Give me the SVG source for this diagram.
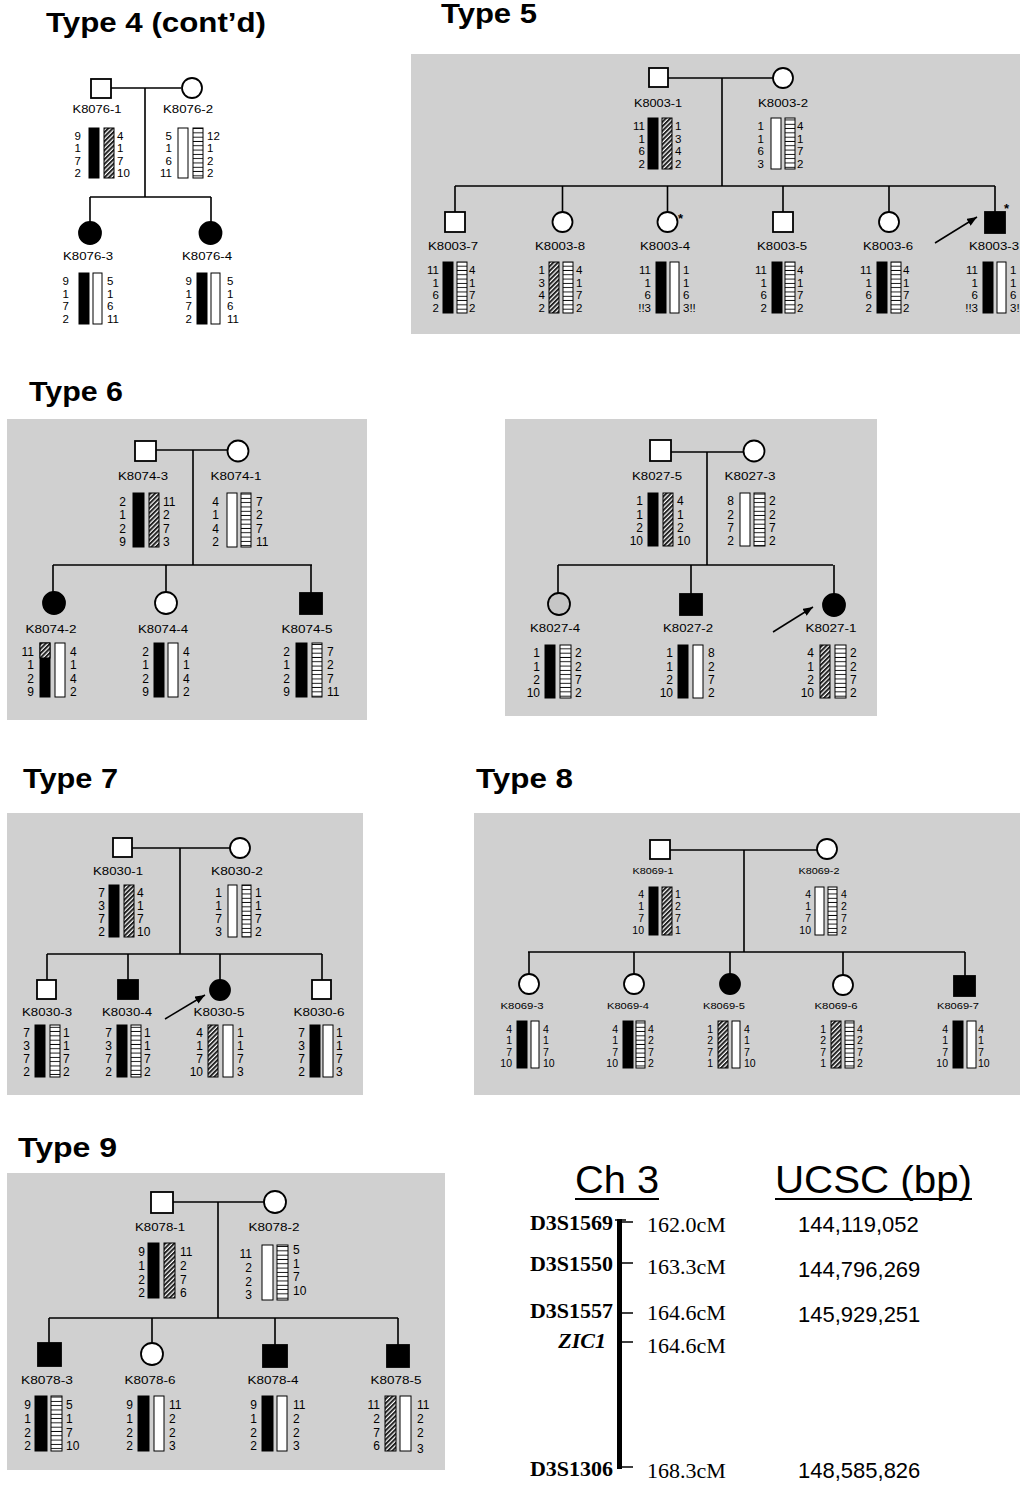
<svg xmlns="http://www.w3.org/2000/svg" width="1020" height="1486" viewBox="0 0 1020 1486">
<defs>
<style>
.title{font-family:"Liberation Sans",Arial,sans-serif;font-weight:bold;font-size:27px}
.lbl{font-family:"Liberation Sans",Arial,sans-serif;font-size:11px;text-anchor:middle}
.lbl8{font-size:9px}
.n{font-family:"Liberation Sans",Arial,sans-serif;font-size:11.5px}
.n11{font-size:12px}
.n9{font-size:10.5px}
.e{text-anchor:end}
.panel{fill:#d0d0d0}
.sym{fill:#fff;stroke:#000;stroke-width:1.8}
.aff{fill:#000;stroke:#000;stroke-width:1.8}
.gry{fill:#c6c6c6;stroke:#000;stroke-width:1.8}
.cn{fill:none;stroke:#000;stroke-width:1.6}
.bk{fill:#000;stroke:#000;stroke-width:1}
.wh{fill:#fff;stroke:#000;stroke-width:1}
.ht{fill:url(#hatch);stroke:#000;stroke-width:1}
.ld{fill:url(#ladder);stroke:#000;stroke-width:1}
.arr{stroke:#000;stroke-width:1.5;marker-end:url(#ah)}
.ast{font-family:"Liberation Sans",Arial,sans-serif;font-weight:bold;font-size:13px}
.mk{font-family:"Liberation Serif","Times New Roman",serif;font-weight:bold;font-size:22px;text-anchor:end}
.cm{font-family:"Liberation Serif","Times New Roman",serif;font-size:22px}
.bp{font-family:"Liberation Sans",Arial,sans-serif;font-size:22px}
.hd{font-family:"Liberation Sans",Arial,sans-serif;font-size:39px}
</style>
<pattern id="hatch" width="3.2" height="3.2" patternUnits="userSpaceOnUse" patternTransform="rotate(45)">
<rect width="3.2" height="3.2" fill="#fff"/>
<rect width="2" height="3.2" fill="#222"/>
</pattern>
<pattern id="ladder" width="20" height="4.3" patternUnits="userSpaceOnUse">
<rect width="20" height="4.3" fill="#fff"/>
<rect y="3.4" width="20" height="0.9" fill="#000"/>
</pattern>
<marker id="ah" viewBox="0 0 10 8" refX="10" refY="4" markerWidth="10" markerHeight="8" markerUnits="userSpaceOnUse" orient="auto">
<path d="M0,0 L10,4 L0,8 Z" fill="#000"/>
</marker>
</defs>
<rect width="1020" height="1486" fill="#fff"/>

<!-- backgrounds of the shaded pedigree panels -->
<g id="panels">
<rect class="panel" x="411" y="54" width="609" height="280"/>
<rect class="panel" x="7" y="419" width="360" height="301"/>
<rect class="panel" x="505" y="419" width="372" height="297"/>
<rect class="panel" x="7" y="813" width="356" height="282"/>
<rect class="panel" x="474" y="813" width="546" height="282"/>
<rect class="panel" x="7" y="1173" width="438" height="297"/>
</g>

<!-- section headings -->
<g id="titles">
<text class="title" x="46" y="32" textLength="220" lengthAdjust="spacingAndGlyphs">Type 4 (cont’d)</text>
<text class="title" x="441" y="23" textLength="96" lengthAdjust="spacingAndGlyphs">Type 5</text>
<text class="title" x="29" y="401" textLength="94" lengthAdjust="spacingAndGlyphs">Type 6</text>
<text class="title" x="23" y="788" textLength="95" lengthAdjust="spacingAndGlyphs">Type 7</text>
<text class="title" x="476" y="788" textLength="97" lengthAdjust="spacingAndGlyphs">Type 8</text>
<text class="title" x="18" y="1157" textLength="99" lengthAdjust="spacingAndGlyphs">Type 9</text>
</g>

<!-- pedigree lines: marriages, sibships, descent lines, proband arrows -->
<g id="connectors">
<path class="cn" d="M111 88H181M145 88V197M90 197H211M90 197V222M211 197V222"/>
<path class="cn" d="M668 78H773M722 78V186M455 186H995M455 186V212M562.5 186V212M667.5 186V212M783 186V212M889 186V212M995 186V212"/>
<path class="cn" d="M156 450H228M193 450V565M53 565H312M53 565V592M166 565V592M311 565V593"/>
<path class="cn" d="M671 452H743M707 452V565M558 565H833M558 565V593M691 565V594M834 565V594"/>
<path class="cn" d="M132 848H230M180 848V954M47 954H322M47 954V980M128 954V980M220 954V980M322 954V980"/>
<path class="cn" d="M670 850H817M744 850V952M528 952H965M529 952V974M634 952V974M730 952V974M843 952V975M965 952V976"/>
<path class="cn" d="M173 1202H264M218 1202V1318M49 1318H398M49 1318V1343M152 1318V1343M275 1318V1345M398 1318V1345"/>
<line class="arr" x1="935" y1="243" x2="977" y2="217"/>
<line class="arr" x1="773" y1="632" x2="813" y2="607"/>
<line class="arr" x1="165" y1="1019" x2="205" y2="995"/>
</g>

<!-- ===== Type 4 (cont'd) ===== -->
<g id="K8076-1">
<rect class="sym" x="91" y="79" width="20" height="19"/>
<text class="lbl" x="97" y="113" textLength="49" lengthAdjust="spacingAndGlyphs">K8076-1</text>
<rect class="bk" x="89" y="128" width="10" height="50"/>
<rect class="ht" x="104" y="128" width="10" height="50"/>
<text class="n e"><tspan x="81" y="139.5">9</tspan><tspan x="81" y="152">1</tspan><tspan x="81" y="164.5">7</tspan><tspan x="81" y="177">2</tspan></text>
<text class="n"><tspan x="117" y="139.5">4</tspan><tspan x="117" y="152">1</tspan><tspan x="117" y="164.5">7</tspan><tspan x="117" y="177">10</tspan></text>
</g>
<g id="K8076-2">
<circle class="sym" cx="192" cy="88" r="10"/>
<text class="lbl" x="188" y="113" textLength="50" lengthAdjust="spacingAndGlyphs">K8076-2</text>
<rect class="wh" x="178" y="128" width="10" height="50"/>
<rect class="ld" x="193" y="128" width="10" height="50"/>
<text class="n e"><tspan x="172" y="139.5">5</tspan><tspan x="172" y="152">1</tspan><tspan x="172" y="164.5">6</tspan><tspan x="172" y="177">11</tspan></text>
<text class="n"><tspan x="207" y="139.5">12</tspan><tspan x="207" y="152">1</tspan><tspan x="207" y="164.5">2</tspan><tspan x="207" y="177">2</tspan></text>
</g>
<g id="K8076-3">
<circle class="aff" cx="90" cy="233" r="11"/>
<text class="lbl" x="88" y="260" textLength="50" lengthAdjust="spacingAndGlyphs">K8076-3</text>
<rect class="bk" x="79" y="273" width="10" height="51"/>
<rect class="wh" x="93" y="273" width="9" height="51"/>
<text class="n e"><tspan x="69" y="284.5">9</tspan><tspan x="69" y="297.5">1</tspan><tspan x="69" y="310">7</tspan><tspan x="69" y="323">2</tspan></text>
<text class="n"><tspan x="107" y="284.5">5</tspan><tspan x="107" y="297.5">1</tspan><tspan x="107" y="310">6</tspan><tspan x="107" y="323">11</tspan></text>
</g>
<g id="K8076-4">
<circle class="aff" cx="210.5" cy="233" r="11"/>
<text class="lbl" x="207" y="260" textLength="50" lengthAdjust="spacingAndGlyphs">K8076-4</text>
<rect class="bk" x="197" y="273" width="10" height="51"/>
<rect class="wh" x="211" y="273" width="9" height="51"/>
<text class="n e"><tspan x="192" y="284.5">9</tspan><tspan x="192" y="297.5">1</tspan><tspan x="192" y="310">7</tspan><tspan x="192" y="323">2</tspan></text>
<text class="n"><tspan x="227" y="284.5">5</tspan><tspan x="227" y="297.5">1</tspan><tspan x="227" y="310">6</tspan><tspan x="227" y="323">11</tspan></text>
</g>

<!-- ===== Type 5 ===== -->
<g id="K8003-1">
<rect class="sym" x="649" y="68" width="19" height="19"/>
<text class="lbl" x="658" y="107" textLength="48" lengthAdjust="spacingAndGlyphs">K8003-1</text>
<rect class="bk" x="648" y="118" width="10" height="51"/>
<rect class="ht" x="662" y="118" width="10" height="51"/>
<text class="n e"><tspan x="645" y="129.5">11</tspan><tspan x="645" y="142.5">1</tspan><tspan x="645" y="155">6</tspan><tspan x="645" y="168">2</tspan></text>
<text class="n"><tspan x="675" y="129.5">1</tspan><tspan x="675" y="142.5">3</tspan><tspan x="675" y="155">4</tspan><tspan x="675" y="168">2</tspan></text>
</g>
<g id="K8003-2">
<circle class="sym" cx="783" cy="78" r="10"/>
<text class="lbl" x="783" y="107" textLength="50" lengthAdjust="spacingAndGlyphs">K8003-2</text>
<rect class="wh" x="771" y="118" width="10" height="51"/>
<rect class="ld" x="785" y="118" width="10" height="51"/>
<text class="n e"><tspan x="764" y="129.5">1</tspan><tspan x="764" y="142.5">1</tspan><tspan x="764" y="155">6</tspan><tspan x="764" y="168">3</tspan></text>
<text class="n"><tspan x="797" y="129.5">4</tspan><tspan x="797" y="142.5">1</tspan><tspan x="797" y="155">7</tspan><tspan x="797" y="168">2</tspan></text>
</g>
<g id="K8003-7">
<rect class="sym" x="445" y="212" width="20" height="20"/>
<text class="lbl" x="453" y="250" textLength="50" lengthAdjust="spacingAndGlyphs">K8003-7</text>
<rect class="bk" x="443" y="262" width="10" height="51"/>
<rect class="ld" x="457" y="262" width="10" height="51"/>
<text class="n e"><tspan x="439" y="273.5">11</tspan><tspan x="439" y="286.5">1</tspan><tspan x="439" y="299">6</tspan><tspan x="439" y="312">2</tspan></text>
<text class="n"><tspan x="469" y="273.5">4</tspan><tspan x="469" y="286.5">1</tspan><tspan x="469" y="299">7</tspan><tspan x="469" y="312">2</tspan></text>
</g>
<g id="K8003-8">
<circle class="sym" cx="562.5" cy="222" r="10"/>
<text class="lbl" x="560" y="250" textLength="50" lengthAdjust="spacingAndGlyphs">K8003-8</text>
<rect class="ht" x="549" y="262" width="10" height="51"/>
<rect class="ld" x="563" y="262" width="10" height="51"/>
<text class="n e"><tspan x="545" y="273.5">1</tspan><tspan x="545" y="286.5">3</tspan><tspan x="545" y="299">4</tspan><tspan x="545" y="312">2</tspan></text>
<text class="n"><tspan x="576" y="273.5">4</tspan><tspan x="576" y="286.5">1</tspan><tspan x="576" y="299">7</tspan><tspan x="576" y="312">2</tspan></text>
</g>
<g id="K8003-4">
<circle class="sym" cx="667.5" cy="222" r="10"/>
<text class="ast" x="678" y="223">*</text>
<text class="lbl" x="665" y="250" textLength="50" lengthAdjust="spacingAndGlyphs">K8003-4</text>
<rect class="bk" x="656" y="262" width="10" height="51"/>
<rect class="wh" x="670" y="262" width="9" height="51"/>
<text class="n e"><tspan x="651" y="273.5">11</tspan><tspan x="651" y="286.5">1</tspan><tspan x="651" y="299">6</tspan><tspan x="651" y="312">!!3</tspan></text>
<text class="n"><tspan x="683" y="273.5">1</tspan><tspan x="683" y="286.5">1</tspan><tspan x="683" y="299">6</tspan><tspan x="683" y="312">3!!</tspan></text>
</g>
<g id="K8003-5">
<rect class="sym" x="773" y="212" width="20" height="20"/>
<text class="lbl" x="782" y="250" textLength="50" lengthAdjust="spacingAndGlyphs">K8003-5</text>
<rect class="bk" x="772" y="262" width="10" height="51"/>
<rect class="ld" x="785" y="262" width="10" height="51"/>
<text class="n e"><tspan x="767" y="273.5">11</tspan><tspan x="767" y="286.5">1</tspan><tspan x="767" y="299">6</tspan><tspan x="767" y="312">2</tspan></text>
<text class="n"><tspan x="797" y="273.5">4</tspan><tspan x="797" y="286.5">1</tspan><tspan x="797" y="299">7</tspan><tspan x="797" y="312">2</tspan></text>
</g>
<g id="K8003-6">
<circle class="sym" cx="889" cy="222" r="10"/>
<text class="lbl" x="888" y="250" textLength="50" lengthAdjust="spacingAndGlyphs">K8003-6</text>
<rect class="bk" x="877" y="262" width="10" height="51"/>
<rect class="ld" x="891" y="262" width="10" height="51"/>
<text class="n e"><tspan x="872" y="273.5">11</tspan><tspan x="872" y="286.5">1</tspan><tspan x="872" y="299">6</tspan><tspan x="872" y="312">2</tspan></text>
<text class="n"><tspan x="903" y="273.5">4</tspan><tspan x="903" y="286.5">1</tspan><tspan x="903" y="299">7</tspan><tspan x="903" y="312">2</tspan></text>
</g>
<g id="K8003-3">
<rect class="aff" x="985" y="212" width="20" height="21"/>
<text class="ast" x="1004" y="213">*</text>
<text class="lbl" x="994" y="250" textLength="50" lengthAdjust="spacingAndGlyphs">K8003-3</text>
<rect class="bk" x="983" y="262" width="10" height="51"/>
<rect class="wh" x="997" y="262" width="9" height="51"/>
<text class="n e"><tspan x="978" y="273.5">11</tspan><tspan x="978" y="286.5">1</tspan><tspan x="978" y="299">6</tspan><tspan x="978" y="312">!!3</tspan></text>
<text class="n"><tspan x="1010" y="273.5">1</tspan><tspan x="1010" y="286.5">1</tspan><tspan x="1010" y="299">6</tspan><tspan x="1010" y="312">3!!</tspan></text>
</g>

<!-- ===== Type 6, family K8074 ===== -->
<g id="K8074-3">
<rect class="sym" x="135" y="441" width="21" height="20"/>
<text class="lbl" x="143" y="480" textLength="50" lengthAdjust="spacingAndGlyphs">K8074-3</text>
<rect class="bk" x="133" y="493" width="11" height="54"/>
<rect class="ht" x="149" y="493" width="10" height="54"/>
<text class="n n11 e"><tspan x="126" y="505.5">2</tspan><tspan x="126" y="519">1</tspan><tspan x="126" y="532.5">2</tspan><tspan x="126" y="546">9</tspan></text>
<text class="n n11"><tspan x="163" y="505.5">11</tspan><tspan x="163" y="519">2</tspan><tspan x="163" y="532.5">7</tspan><tspan x="163" y="546">3</tspan></text>
</g>
<g id="K8074-1">
<circle class="sym" cx="238" cy="451" r="10.5"/>
<text class="lbl" x="236" y="480" textLength="51" lengthAdjust="spacingAndGlyphs">K8074-1</text>
<rect class="wh" x="227" y="493" width="10" height="54"/>
<rect class="ld" x="241" y="493" width="10" height="54"/>
<text class="n n11 e"><tspan x="219" y="505.5">4</tspan><tspan x="219" y="519">1</tspan><tspan x="219" y="532.5">4</tspan><tspan x="219" y="546">2</tspan></text>
<text class="n n11"><tspan x="256" y="505.5">7</tspan><tspan x="256" y="519">2</tspan><tspan x="256" y="532.5">7</tspan><tspan x="256" y="546">11</tspan></text>
</g>
<g id="K8074-2">
<circle class="aff" cx="54" cy="603" r="11"/>
<text class="lbl" x="51" y="633" textLength="51" lengthAdjust="spacingAndGlyphs">K8074-2</text>
<rect class="bk" x="40" y="643" width="10" height="54"/>
<rect class="ht" x="40" y="643" width="10" height="15"/>
<rect class="wh" x="55" y="643" width="10" height="54"/>
<text class="n n11 e"><tspan x="34" y="655.5">11</tspan><tspan x="34" y="669">1</tspan><tspan x="34" y="682.5">2</tspan><tspan x="34" y="696">9</tspan></text>
<text class="n n11"><tspan x="70" y="655.5">4</tspan><tspan x="70" y="669">1</tspan><tspan x="70" y="682.5">4</tspan><tspan x="70" y="696">2</tspan></text>
</g>
<g id="K8074-4">
<circle class="sym" cx="166" cy="603" r="11"/>
<text class="lbl" x="163" y="633" textLength="50" lengthAdjust="spacingAndGlyphs">K8074-4</text>
<rect class="bk" x="154" y="643" width="10" height="54"/>
<rect class="wh" x="168" y="643" width="10" height="54"/>
<text class="n n11 e"><tspan x="149" y="655.5">2</tspan><tspan x="149" y="669">1</tspan><tspan x="149" y="682.5">2</tspan><tspan x="149" y="696">9</tspan></text>
<text class="n n11"><tspan x="183" y="655.5">4</tspan><tspan x="183" y="669">1</tspan><tspan x="183" y="682.5">4</tspan><tspan x="183" y="696">2</tspan></text>
</g>
<g id="K8074-5">
<rect class="aff" x="300" y="593" width="22" height="21"/>
<text class="lbl" x="307" y="633" textLength="51" lengthAdjust="spacingAndGlyphs">K8074-5</text>
<rect class="bk" x="296" y="643" width="11" height="54"/>
<rect class="ld" x="312" y="643" width="10" height="54"/>
<text class="n n11 e"><tspan x="290" y="655.5">2</tspan><tspan x="290" y="669">1</tspan><tspan x="290" y="682.5">2</tspan><tspan x="290" y="696">9</tspan></text>
<text class="n n11"><tspan x="327" y="655.5">7</tspan><tspan x="327" y="669">2</tspan><tspan x="327" y="682.5">7</tspan><tspan x="327" y="696">11</tspan></text>
</g>

<!-- ===== Type 6, family K8027 ===== -->
<g id="K8027-5">
<rect class="sym" x="650" y="440" width="21" height="21"/>
<text class="lbl" x="657" y="480" textLength="50" lengthAdjust="spacingAndGlyphs">K8027-5</text>
<rect class="bk" x="648" y="493" width="10" height="53"/>
<rect class="ht" x="663" y="493" width="10" height="53"/>
<text class="n n11 e"><tspan x="643" y="505">1</tspan><tspan x="643" y="518.5">1</tspan><tspan x="643" y="531.5">2</tspan><tspan x="643" y="545">10</tspan></text>
<text class="n n11"><tspan x="677" y="505">4</tspan><tspan x="677" y="518.5">1</tspan><tspan x="677" y="531.5">2</tspan><tspan x="677" y="545">10</tspan></text>
</g>
<g id="K8027-3">
<circle class="sym" cx="754" cy="451" r="10.5"/>
<text class="lbl" x="750" y="480" textLength="51" lengthAdjust="spacingAndGlyphs">K8027-3</text>
<rect class="wh" x="740" y="493" width="10" height="53"/>
<rect class="ld" x="754" y="493" width="11" height="53"/>
<text class="n n11 e"><tspan x="734" y="505">8</tspan><tspan x="734" y="518.5">2</tspan><tspan x="734" y="531.5">7</tspan><tspan x="734" y="545">2</tspan></text>
<text class="n n11"><tspan x="769" y="505">2</tspan><tspan x="769" y="518.5">2</tspan><tspan x="769" y="531.5">7</tspan><tspan x="769" y="545">2</tspan></text>
</g>
<g id="K8027-4">
<circle class="gry" cx="559" cy="604" r="11"/>
<text class="lbl" x="555" y="632" textLength="50" lengthAdjust="spacingAndGlyphs">K8027-4</text>
<rect class="bk" x="545" y="645" width="10" height="53"/>
<rect class="ld" x="560" y="645" width="11" height="53"/>
<text class="n n11 e"><tspan x="540" y="657">1</tspan><tspan x="540" y="670.5">1</tspan><tspan x="540" y="683.5">2</tspan><tspan x="540" y="697">10</tspan></text>
<text class="n n11"><tspan x="575" y="657">2</tspan><tspan x="575" y="670.5">2</tspan><tspan x="575" y="683.5">7</tspan><tspan x="575" y="697">2</tspan></text>
</g>
<g id="K8027-2">
<rect class="aff" x="680" y="594" width="22" height="21"/>
<text class="lbl" x="688" y="632" textLength="50" lengthAdjust="spacingAndGlyphs">K8027-2</text>
<rect class="bk" x="678" y="645" width="10" height="53"/>
<rect class="wh" x="693" y="645" width="10" height="53"/>
<text class="n n11 e"><tspan x="673" y="657">1</tspan><tspan x="673" y="670.5">1</tspan><tspan x="673" y="683.5">2</tspan><tspan x="673" y="697">10</tspan></text>
<text class="n n11"><tspan x="708" y="657">8</tspan><tspan x="708" y="670.5">2</tspan><tspan x="708" y="683.5">7</tspan><tspan x="708" y="697">2</tspan></text>
</g>
<g id="K8027-1">
<circle class="aff" cx="834" cy="605" r="11"/>
<text class="lbl" x="831" y="632" textLength="51" lengthAdjust="spacingAndGlyphs">K8027-1</text>
<rect class="ht" x="820" y="645" width="10" height="53"/>
<rect class="ld" x="835" y="645" width="11" height="53"/>
<text class="n n11 e"><tspan x="814" y="657">4</tspan><tspan x="814" y="670.5">1</tspan><tspan x="814" y="683.5">2</tspan><tspan x="814" y="697">10</tspan></text>
<text class="n n11"><tspan x="850" y="657">2</tspan><tspan x="850" y="670.5">2</tspan><tspan x="850" y="683.5">7</tspan><tspan x="850" y="697">2</tspan></text>
</g>

<!-- ===== Type 7 ===== -->
<g id="K8030-1">
<rect class="sym" x="113" y="838" width="19" height="19"/>
<text class="lbl" x="118" y="875" textLength="50" lengthAdjust="spacingAndGlyphs">K8030-1</text>
<rect class="bk" x="109" y="885" width="10" height="52"/>
<rect class="ht" x="124" y="885" width="10" height="52"/>
<text class="n n11 e"><tspan x="105" y="897">7</tspan><tspan x="105" y="910">3</tspan><tspan x="105" y="923">7</tspan><tspan x="105" y="936">2</tspan></text>
<text class="n n11"><tspan x="137" y="897">4</tspan><tspan x="137" y="910">1</tspan><tspan x="137" y="923">7</tspan><tspan x="137" y="936">10</tspan></text>
</g>
<g id="K8030-2">
<circle class="sym" cx="240" cy="848" r="10"/>
<text class="lbl" x="237" y="875" textLength="52" lengthAdjust="spacingAndGlyphs">K8030-2</text>
<rect class="wh" x="228" y="885" width="9" height="52"/>
<rect class="ld" x="242" y="885" width="9" height="52"/>
<text class="n n11 e"><tspan x="222" y="897">1</tspan><tspan x="222" y="910">1</tspan><tspan x="222" y="923">7</tspan><tspan x="222" y="936">3</tspan></text>
<text class="n n11"><tspan x="255" y="897">1</tspan><tspan x="255" y="910">1</tspan><tspan x="255" y="923">7</tspan><tspan x="255" y="936">2</tspan></text>
</g>
<g id="K8030-3">
<rect class="sym" x="37" y="980" width="19" height="19"/>
<text class="lbl" x="47" y="1016" textLength="50" lengthAdjust="spacingAndGlyphs">K8030-3</text>
<rect class="bk" x="35" y="1025" width="10" height="52"/>
<rect class="ld" x="50" y="1025" width="10" height="52"/>
<text class="n n11 e"><tspan x="30" y="1037">7</tspan><tspan x="30" y="1050">3</tspan><tspan x="30" y="1063">7</tspan><tspan x="30" y="1076">2</tspan></text>
<text class="n n11"><tspan x="63" y="1037">1</tspan><tspan x="63" y="1050">1</tspan><tspan x="63" y="1063">7</tspan><tspan x="63" y="1076">2</tspan></text>
</g>
<g id="K8030-4">
<rect class="aff" x="118" y="980" width="20" height="19"/>
<text class="lbl" x="127" y="1016" textLength="50" lengthAdjust="spacingAndGlyphs">K8030-4</text>
<rect class="bk" x="117" y="1025" width="10" height="52"/>
<rect class="ld" x="131" y="1025" width="10" height="52"/>
<text class="n n11 e"><tspan x="112" y="1037">7</tspan><tspan x="112" y="1050">3</tspan><tspan x="112" y="1063">7</tspan><tspan x="112" y="1076">2</tspan></text>
<text class="n n11"><tspan x="144" y="1037">1</tspan><tspan x="144" y="1050">1</tspan><tspan x="144" y="1063">7</tspan><tspan x="144" y="1076">2</tspan></text>
</g>
<g id="K8030-5">
<circle class="aff" cx="220" cy="990" r="10"/>
<text class="lbl" x="219" y="1016" textLength="51" lengthAdjust="spacingAndGlyphs">K8030-5</text>
<rect class="ht" x="208" y="1025" width="10" height="52"/>
<rect class="wh" x="223" y="1025" width="10" height="52"/>
<text class="n n11 e"><tspan x="203" y="1037">4</tspan><tspan x="203" y="1050">1</tspan><tspan x="203" y="1063">7</tspan><tspan x="203" y="1076">10</tspan></text>
<text class="n n11"><tspan x="237" y="1037">1</tspan><tspan x="237" y="1050">1</tspan><tspan x="237" y="1063">7</tspan><tspan x="237" y="1076">3</tspan></text>
</g>
<g id="K8030-6">
<rect class="sym" x="312" y="980" width="19" height="19"/>
<text class="lbl" x="319" y="1016" textLength="51" lengthAdjust="spacingAndGlyphs">K8030-6</text>
<rect class="bk" x="310" y="1025" width="10" height="52"/>
<rect class="wh" x="323" y="1025" width="10" height="52"/>
<text class="n n11 e"><tspan x="305" y="1037">7</tspan><tspan x="305" y="1050">3</tspan><tspan x="305" y="1063">7</tspan><tspan x="305" y="1076">2</tspan></text>
<text class="n n11"><tspan x="336" y="1037">1</tspan><tspan x="336" y="1050">1</tspan><tspan x="336" y="1063">7</tspan><tspan x="336" y="1076">3</tspan></text>
</g>

<!-- ===== Type 8 ===== -->
<g id="K8069-1">
<rect class="sym" x="650" y="840" width="20" height="19"/>
<text class="lbl lbl8" x="653" y="874" textLength="41" lengthAdjust="spacingAndGlyphs">K8069-1</text>
<rect class="bk" x="649" y="887" width="9" height="48"/>
<rect class="ht" x="662" y="887" width="10" height="48"/>
<text class="n n9 e"><tspan x="644" y="898">4</tspan><tspan x="644" y="910">1</tspan><tspan x="644" y="922">7</tspan><tspan x="644" y="934">10</tspan></text>
<text class="n n9"><tspan x="675" y="898">1</tspan><tspan x="675" y="910">2</tspan><tspan x="675" y="922">7</tspan><tspan x="675" y="934">1</tspan></text>
</g>
<g id="K8069-2">
<circle class="sym" cx="827" cy="849" r="10"/>
<text class="lbl lbl8" x="819" y="874" textLength="41" lengthAdjust="spacingAndGlyphs">K8069-2</text>
<rect class="wh" x="815" y="887" width="9" height="48"/>
<rect class="ld" x="828" y="887" width="9" height="48"/>
<text class="n n9 e"><tspan x="811" y="898">4</tspan><tspan x="811" y="910">1</tspan><tspan x="811" y="922">7</tspan><tspan x="811" y="934">10</tspan></text>
<text class="n n9"><tspan x="841" y="898">4</tspan><tspan x="841" y="910">2</tspan><tspan x="841" y="922">7</tspan><tspan x="841" y="934">2</tspan></text>
</g>
<g id="K8069-3">
<circle class="sym" cx="529" cy="984" r="10"/>
<text class="lbl lbl8" x="522" y="1009" textLength="43" lengthAdjust="spacingAndGlyphs">K8069-3</text>
<rect class="bk" x="517" y="1021" width="10" height="47"/>
<rect class="wh" x="531" y="1021" width="8" height="47"/>
<text class="n n9 e"><tspan x="512" y="1032.5">4</tspan><tspan x="512" y="1044">1</tspan><tspan x="512" y="1056">7</tspan><tspan x="512" y="1067">10</tspan></text>
<text class="n n9"><tspan x="543" y="1032.5">4</tspan><tspan x="543" y="1044">1</tspan><tspan x="543" y="1056">7</tspan><tspan x="543" y="1067">10</tspan></text>
</g>
<g id="K8069-4">
<circle class="sym" cx="634" cy="984" r="10"/>
<text class="lbl lbl8" x="628" y="1009" textLength="42" lengthAdjust="spacingAndGlyphs">K8069-4</text>
<rect class="bk" x="623" y="1021" width="10" height="47"/>
<rect class="ld" x="636" y="1021" width="9" height="47"/>
<text class="n n9 e"><tspan x="618" y="1032.5">4</tspan><tspan x="618" y="1044">1</tspan><tspan x="618" y="1056">7</tspan><tspan x="618" y="1067">10</tspan></text>
<text class="n n9"><tspan x="648" y="1032.5">4</tspan><tspan x="648" y="1044">2</tspan><tspan x="648" y="1056">7</tspan><tspan x="648" y="1067">2</tspan></text>
</g>
<g id="K8069-5">
<circle class="aff" cx="730" cy="984" r="10"/>
<text class="lbl lbl8" x="724" y="1009" textLength="42" lengthAdjust="spacingAndGlyphs">K8069-5</text>
<rect class="ht" x="718" y="1021" width="10" height="47"/>
<rect class="wh" x="732" y="1021" width="8" height="47"/>
<text class="n n9 e"><tspan x="713" y="1032.5">1</tspan><tspan x="713" y="1044">2</tspan><tspan x="713" y="1056">7</tspan><tspan x="713" y="1067">1</tspan></text>
<text class="n n9"><tspan x="744" y="1032.5">4</tspan><tspan x="744" y="1044">1</tspan><tspan x="744" y="1056">7</tspan><tspan x="744" y="1067">10</tspan></text>
</g>
<g id="K8069-6">
<circle class="sym" cx="843" cy="985" r="10"/>
<text class="lbl lbl8" x="836" y="1009" textLength="43" lengthAdjust="spacingAndGlyphs">K8069-6</text>
<rect class="ht" x="831" y="1021" width="10" height="47"/>
<rect class="ld" x="845" y="1021" width="9" height="47"/>
<text class="n n9 e"><tspan x="826" y="1032.5">1</tspan><tspan x="826" y="1044">2</tspan><tspan x="826" y="1056">7</tspan><tspan x="826" y="1067">1</tspan></text>
<text class="n n9"><tspan x="857" y="1032.5">4</tspan><tspan x="857" y="1044">2</tspan><tspan x="857" y="1056">7</tspan><tspan x="857" y="1067">2</tspan></text>
</g>
<g id="K8069-7">
<rect class="aff" x="954" y="976" width="21" height="20"/>
<text class="lbl lbl8" x="958" y="1009" textLength="42" lengthAdjust="spacingAndGlyphs">K8069-7</text>
<rect class="bk" x="953" y="1021" width="10" height="47"/>
<rect class="wh" x="967" y="1021" width="9" height="47"/>
<text class="n n9 e"><tspan x="948" y="1032.5">4</tspan><tspan x="948" y="1044">1</tspan><tspan x="948" y="1056">7</tspan><tspan x="948" y="1067">10</tspan></text>
<text class="n n9"><tspan x="978" y="1032.5">4</tspan><tspan x="978" y="1044">1</tspan><tspan x="978" y="1056">7</tspan><tspan x="978" y="1067">10</tspan></text>
</g>

<!-- ===== Type 9 ===== -->
<g id="K8078-1">
<rect class="sym" x="151" y="1192" width="22" height="21"/>
<text class="lbl" x="160" y="1231" textLength="50" lengthAdjust="spacingAndGlyphs">K8078-1</text>
<rect class="bk" x="148" y="1243" width="11" height="55"/>
<rect class="ht" x="164" y="1243" width="11" height="55"/>
<text class="n n11 e"><tspan x="145" y="1256">9</tspan><tspan x="145" y="1270">1</tspan><tspan x="145" y="1283.5">2</tspan><tspan x="145" y="1297">2</tspan></text>
<text class="n n11"><tspan x="180" y="1256">11</tspan><tspan x="180" y="1270">2</tspan><tspan x="180" y="1283.5">7</tspan><tspan x="180" y="1297">6</tspan></text>
</g>
<g id="K8078-2">
<circle class="sym" cx="275" cy="1202" r="11"/>
<text class="lbl" x="274" y="1231" textLength="51" lengthAdjust="spacingAndGlyphs">K8078-2</text>
<rect class="wh" x="262" y="1245" width="11" height="55"/>
<rect class="ld" x="277" y="1245" width="11" height="55"/>
<text class="n n11 e"><tspan x="252" y="1258">11</tspan><tspan x="252" y="1272">2</tspan><tspan x="252" y="1286">2</tspan><tspan x="252" y="1299">3</tspan></text>
<text class="n n11"><tspan x="293" y="1254">5</tspan><tspan x="293" y="1268">1</tspan><tspan x="293" y="1281">7</tspan><tspan x="293" y="1295">10</tspan></text>
</g>
<g id="K8078-3">
<rect class="aff" x="38" y="1343" width="23" height="23"/>
<text class="lbl" x="47" y="1384" textLength="52" lengthAdjust="spacingAndGlyphs">K8078-3</text>
<rect class="bk" x="35" y="1396" width="12" height="55"/>
<rect class="ld" x="51" y="1396" width="11" height="55"/>
<text class="n n11 e"><tspan x="31" y="1409">9</tspan><tspan x="31" y="1423">1</tspan><tspan x="31" y="1436.5">2</tspan><tspan x="31" y="1450">2</tspan></text>
<text class="n n11"><tspan x="66" y="1409">5</tspan><tspan x="66" y="1423">1</tspan><tspan x="66" y="1436.5">7</tspan><tspan x="66" y="1450">10</tspan></text>
</g>
<g id="K8078-6">
<circle class="sym" cx="152" cy="1354" r="11"/>
<text class="lbl" x="150" y="1384" textLength="51" lengthAdjust="spacingAndGlyphs">K8078-6</text>
<rect class="bk" x="138" y="1396" width="11" height="55"/>
<rect class="wh" x="154" y="1396" width="10" height="55"/>
<text class="n n11 e"><tspan x="133" y="1409">9</tspan><tspan x="133" y="1423">1</tspan><tspan x="133" y="1436.5">2</tspan><tspan x="133" y="1450">2</tspan></text>
<text class="n n11"><tspan x="169" y="1409">11</tspan><tspan x="169" y="1423">2</tspan><tspan x="169" y="1436.5">2</tspan><tspan x="169" y="1450">3</tspan></text>
</g>
<g id="K8078-4">
<rect class="aff" x="263" y="1345" width="24" height="22"/>
<text class="lbl" x="273" y="1384" textLength="51" lengthAdjust="spacingAndGlyphs">K8078-4</text>
<rect class="bk" x="262" y="1396" width="11" height="55"/>
<rect class="wh" x="277" y="1396" width="10" height="55"/>
<text class="n n11 e"><tspan x="257" y="1409">9</tspan><tspan x="257" y="1423">1</tspan><tspan x="257" y="1436.5">2</tspan><tspan x="257" y="1450">2</tspan></text>
<text class="n n11"><tspan x="293" y="1409">11</tspan><tspan x="293" y="1423">2</tspan><tspan x="293" y="1436.5">2</tspan><tspan x="293" y="1450">3</tspan></text>
</g>
<g id="K8078-5">
<rect class="aff" x="387" y="1345" width="22" height="22"/>
<text class="lbl" x="396" y="1384" textLength="51" lengthAdjust="spacingAndGlyphs">K8078-5</text>
<rect class="ht" x="385" y="1396" width="11" height="55"/>
<rect class="wh" x="400" y="1396" width="11" height="55"/>
<text class="n n11 e"><tspan x="380" y="1409">11</tspan><tspan x="380" y="1423">2</tspan><tspan x="380" y="1436.5">7</tspan><tspan x="380" y="1450">6</tspan></text>
<text class="n n11"><tspan x="417" y="1409">11</tspan><tspan x="417" y="1423">2</tspan><tspan x="417" y="1436.5">2</tspan><tspan x="417" y="1453">3</tspan></text>
</g>

<!-- ===== Chromosome 3 marker map ===== -->
<g id="chr3-map">
<text class="hd" x="575" y="1193" textLength="84" lengthAdjust="spacingAndGlyphs">Ch 3</text>
<line x1="575" y1="1199" x2="659" y2="1199" stroke="#000" stroke-width="2"/>
<text class="hd" x="775" y="1193" textLength="197" lengthAdjust="spacingAndGlyphs">UCSC (bp)</text>
<line x1="775" y1="1199" x2="972" y2="1199" stroke="#000" stroke-width="2"/>
<rect x="617" y="1219" width="5" height="250" fill="#000"/>
<path d="M615 1220H626M622 1222H633M622 1263H633M622 1313H633M622 1342H633M620 1467H633" fill="none" stroke="#000" stroke-width="1.6"/>
<text class="mk" x="613" y="1230">D3S1569</text>
<text class="mk" x="613" y="1271">D3S1550</text>
<text class="mk" x="613" y="1318">D3S1557</text>
<text class="mk" x="606" y="1348" font-style="italic">ZIC1</text>
<text class="mk" x="613" y="1476">D3S1306</text>
<text class="cm" x="647" y="1232">162.0cM</text>
<text class="cm" x="647" y="1274">163.3cM</text>
<text class="cm" x="647" y="1320">164.6cM</text>
<text class="cm" x="647" y="1353">164.6cM</text>
<text class="cm" x="647" y="1478">168.3cM</text>
<text class="bp" x="798" y="1232">144,119,052</text>
<text class="bp" x="798" y="1277">144,796,269</text>
<text class="bp" x="798" y="1322">145,929,251</text>
<text class="bp" x="798" y="1478">148,585,826</text>
</g>
</svg>
